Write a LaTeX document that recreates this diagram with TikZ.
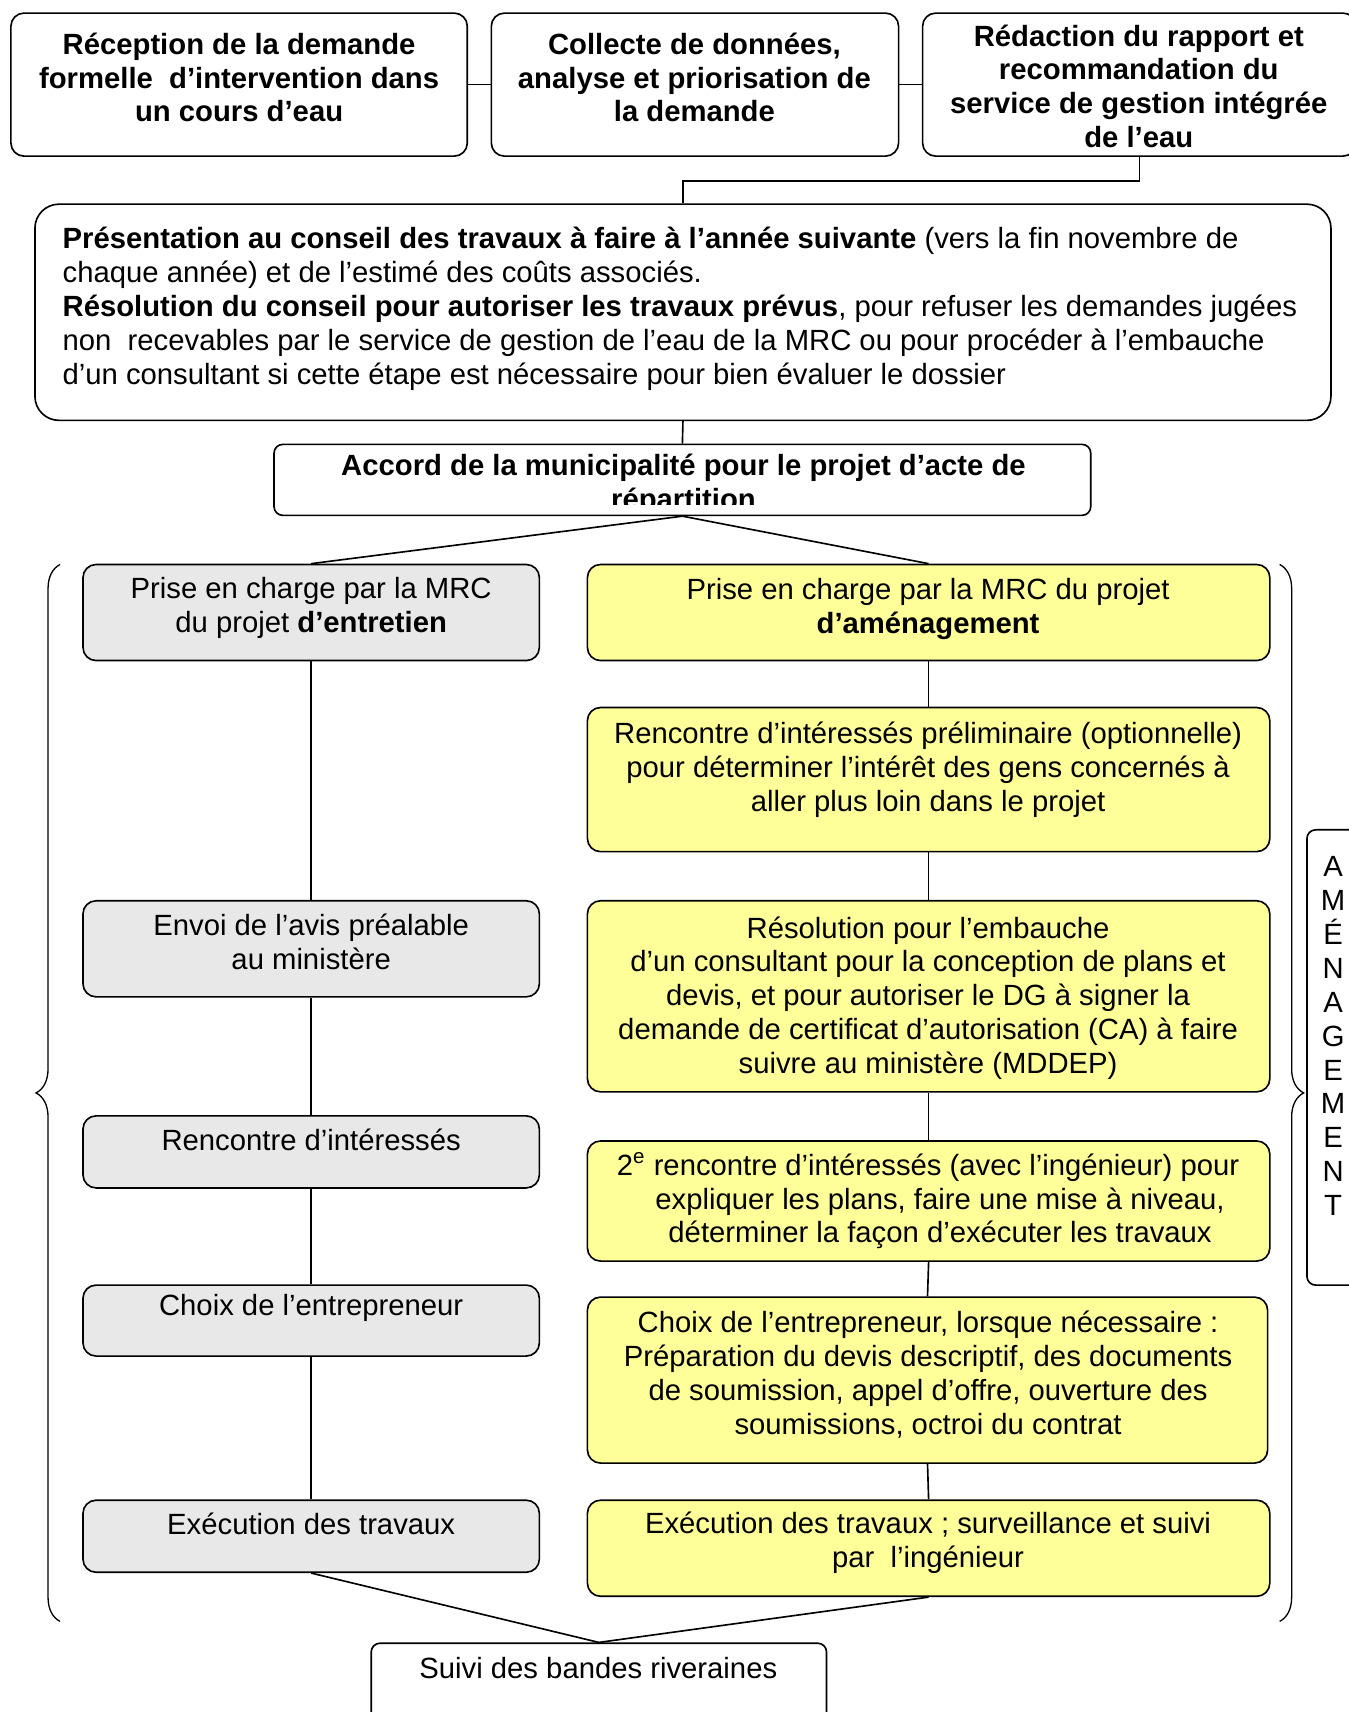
\documentclass[tikz,border=0pt]{standalone}
\usepackage{fontspec}
\setmainfont{Liberation Sans}
\usetikzlibrary{fit,decorations.pathreplacing}
\definecolor{grayfill}{HTML}{E8E8E8}
\definecolor{yelfill}{HTML}{FFFF99}
\begin{document}
\begin{tikzpicture}[x=0.5pt,y=-0.5pt,
  every node/.style={font=\fontsize{13.4pt}{15.5pt}\selectfont},
  box/.style={draw, line width=0.75pt, rounded corners=6pt, inner sep=0pt},
  wbox/.style={box, fill=white},
  gbox/.style={box, fill=grayfill},
  ybox/.style={box, fill=yelfill},
  txt/.style={align=center, inner sep=0pt},
  btxt/.style={txt, font=\fontsize{13.4pt}{15.5pt}\selectfont\bfseries},
  link/.style={line width=0.75pt},
  bracedeco/.style={line width=0.6pt, decorate, decoration={brace, amplitude=11pt}}]
\useasboundingbox (0,0) rectangle (1235,1568);

% boxes
\node[wbox, fit={(10,12) (428,143)}] (A) {};
\node[wbox, fit={(450,12) (823,143)}] (B) {};
\node[wbox, fit={(845,12) (1242,143)}] (C) {};
\node[wbox, rounded corners=11pt, fit={(32,187) (1219,385)}] (D) {};
\node[wbox, rounded corners=4pt, fit={(251,407) (999,472)}] (E) {};

\node[gbox, fit={(76,517) (494,605)}] (F) {};
\node[gbox, fit={(76,825) (494,913)}] (H) {};
\node[gbox, fit={(76,1022) (494,1088)}] (I) {};
\node[gbox, fit={(76,1177) (494,1242)}] (J) {};
\node[gbox, fit={(76,1374) (494,1440)}] (K) {};

\node[ybox, fit={(538,517) (1163,605)}] (G) {};
\node[ybox, fit={(538,648) (1163,780)}] (L) {};
\node[ybox, fit={(538,825) (1163,1000)}] (M) {};
\node[ybox, fit={(538,1045) (1163,1155)}] (N) {};
\node[ybox, fit={(538,1188) (1161,1340)}] (O) {};
\node[ybox, fit={(538,1374) (1163,1462)}] (P) {};

\node[wbox, rounded corners=4pt, fit={(340,1505) (757,1590)}] (Q) {};
\node[wbox, rounded corners=4pt, fit={(1197,760) (1250,1177)}] (R) {};

% connectors
\draw[link] (A.east) -- (B.west);
\draw[link] (B.east) -- (C.west);
\draw[link] (C.south) -- ++(0,22) -| (D.north);
\draw[link] (D.south) -- (E.north);
\draw[link] (E.south) -- (F.north);
\draw[link] (E.south) -- (G.north);
\draw[link] (F.south) -- (H.north);
\draw[link] (H.south) -- (I.north);
\draw[link] (I.south) -- (J.north);
\draw[link] (J.south) -- (K.north);
\draw[link] (G.south) -- (L.north);
\draw[link] (L.south) -- (M.north);
\draw[link] (M.south) -- (N.north);
\draw[link] (N.south) -- (O.north);
\draw[link] (O.south) -- (P.north);
\draw[link] (K.south) -- (Q.north);
\draw[link] (P.south) -- (Q.north);

% braces
\draw[bracedeco] (55,1485) -- (55,517);
\draw[bracedeco] (1172,517) -- (1172,1485);

% texts
\node[btxt] (At) at (219,71) {Réception de la demande\\formelle\ \ d’intervention dans\\un cours d’eau};
\node[btxt] (Bt) at (636,71) {Collecte de données,\\analyse et priorisation de\\la demande};
\node[btxt] (Ct) at (1043,79) {Rédaction du rapport et\\recommandation du\\service de gestion intégrée\\de l’eau};
\node[txt, align=left, anchor=west] (Dt) at (57,283) {\textbf{Présentation au conseil des travaux à faire à l’année suivante} (vers la fin novembre de\\chaque année) et de l’estimé des coûts associés.\\\textbf{Résolution du conseil pour autoriser les travaux prévus}, pour refuser les demandes jugées\\non\ \ recevables par le service de gestion de l’eau de la MRC ou pour procéder à l’embauche\\d’un consultant si cette étape est nécessaire pour bien évaluer le dossier};
\begin{scope}
\clip (251,407) rectangle (999,462);
\node[btxt] (Et) at (626,444) {Accord de la municipalité pour le projet d’acte de\\répartition};
\end{scope}

\node[txt] (Ft) at (285,557) {Prise en charge par la MRC\\du projet \textbf{d’entretien}};
\node[txt] (Ht) at (285,863) {Envoi de l’avis préalable\\au ministère};
\node[txt] (It) at (285,1044) {Rencontre d’intéressés};
\node[txt] (Jt) at (285,1198) {Choix de l’entrepreneur};
\node[txt] (Kt) at (285,1396) {Exécution des travaux};

\node[txt] (Gt) at (850,558) {Prise en charge par la MRC du projet\\\textbf{d’aménagement}};
\node[txt] (Lt) at (850,705) {Rencontre d’intéressés préliminaire (optionnelle)\\pour déterminer l’intérêt des gens concernés à\\aller plus loin dans le projet};
\node[txt] (Mt) at (850,914) {Résolution pour l’embauche\\d’un consultant pour la conception de plans et\\devis, et pour autoriser le DG à signer la\\demande de certificat d’autorisation (CA) à faire\\suivre au ministère (MDDEP)};
\node[txt] (Nt) at (850,1100) {2\textsuperscript{e} rencontre d’intéressés (avec l’ingénieur) pour\\\hspace*{11pt}expliquer les plans, faire une mise à niveau,\\\hspace*{11pt}déterminer la façon d’exécuter les travaux};
\node[txt] (Ot) at (850,1259) {Choix de l’entrepreneur, lorsque nécessaire :\\Préparation du devis descriptif, des documents\\de soumission, appel d’offre, ouverture des\\soumissions, octroi du contrat};
\node[txt] (Pt) at (850,1413) {Exécution des travaux ; surveillance et suivi\\par\ \ l’ingénieur};

\node[txt] (Qt) at (548,1528) {Suivi des bandes riveraines};
\node[txt] (Rt) at (1221,949) {A\\M\\É\\N\\A\\G\\E\\M\\E\\N\\T};
\end{tikzpicture}
\end{document}
